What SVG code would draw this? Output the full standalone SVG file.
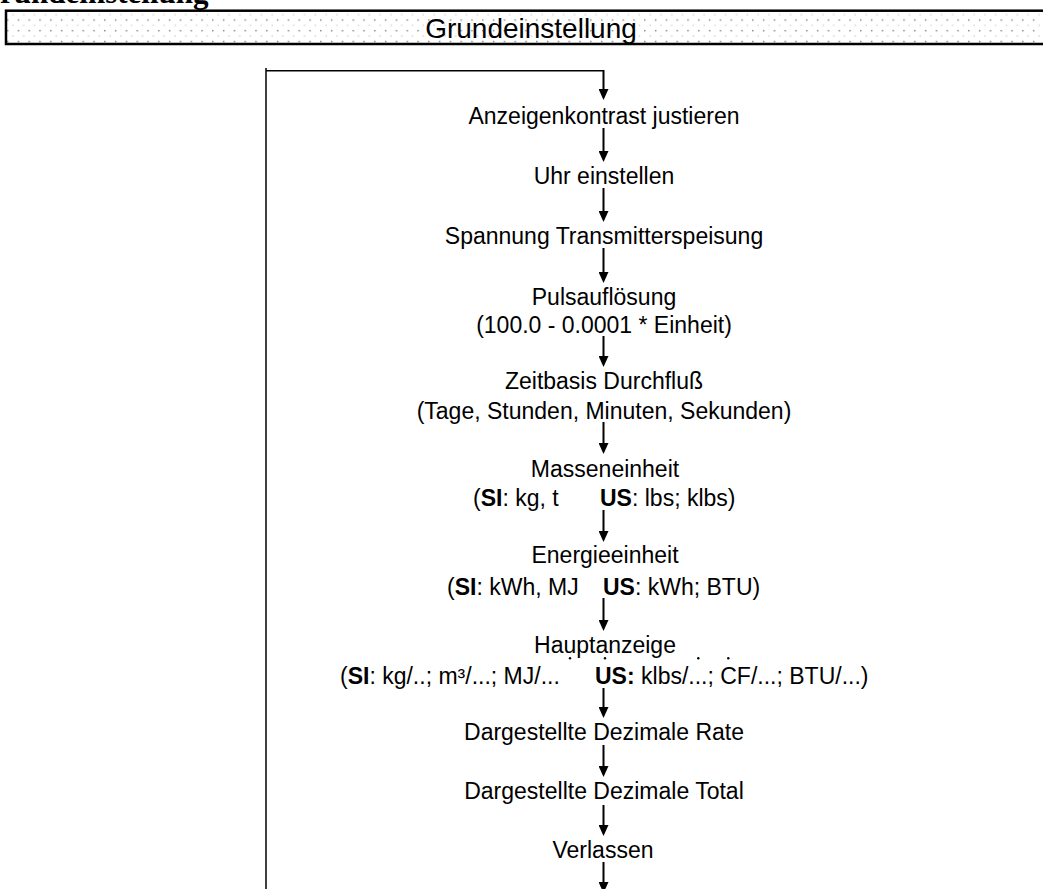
<svg xmlns="http://www.w3.org/2000/svg" width="1043" height="889" viewBox="0 0 1043 889">
<style>
.t{font-family:"Liberation Sans",Arial,sans-serif;font-size:23px;fill:#000}
.c{text-anchor:middle}
.b{font-weight:bold}
.ln{stroke:#000;stroke-width:2;fill:none}
.loop{stroke:#000;stroke-width:1.5;fill:none}
</style>
<defs>
<pattern id="dots" patternUnits="userSpaceOnUse" x="0" y="0" width="10.8" height="10.7">
<rect x="0" y="0" width="10.8" height="10.7" fill="#fff"/>
<rect x="7" y="8.7" width="1.3" height="1.3" fill="#666"/>
<rect x="1.6" y="3.4" width="1.1" height="1.1" fill="#b8b8b8"/>
</pattern>
<marker id="ah" markerUnits="userSpaceOnUse" viewBox="0 0 11 10" markerWidth="11" markerHeight="10" refX="1" refY="5" orient="auto">
<path d="M0,0 L11,5 L0,10 z" fill="#000"/>
</marker>
</defs>

<text x="-24" y="3" style="font-family:'Liberation Serif','Times New Roman',serif;font-size:31px;font-weight:bold">Grundeinstellung</text>

<g id="header">
<rect x="6" y="10.7" width="1100" height="33.3" fill="url(#dots)" stroke="#000" stroke-width="2.5"/>
<text class="t c" x="531" y="38" style="font-size:28px">Grundeinstellung</text>
</g>

<g id="connectors">
<path class="loop" d="M266,889 L266,68 M265.3,70.7 L604,70.7"/>
<line class="ln" x1="603.5" y1="70" x2="603.5" y2="90" marker-end="url(#ah)"/>
<line class="ln" x1="603.5" y1="128" x2="603.5" y2="152" marker-end="url(#ah)"/>
<line class="ln" x1="603.5" y1="188" x2="603.5" y2="212" marker-end="url(#ah)"/>
<line class="ln" x1="603.5" y1="248" x2="603.5" y2="273" marker-end="url(#ah)"/>
<line class="ln" x1="603.5" y1="336" x2="603.5" y2="357" marker-end="url(#ah)"/>
<line class="ln" x1="603.5" y1="422" x2="603.5" y2="444" marker-end="url(#ah)"/>
<line class="ln" x1="603.5" y1="510" x2="603.5" y2="532" marker-end="url(#ah)"/>
<line class="ln" x1="603.5" y1="598" x2="603.5" y2="621" marker-end="url(#ah)"/>
<line class="ln" x1="603.5" y1="688" x2="603.5" y2="708" marker-end="url(#ah)"/>
<line class="ln" x1="603.5" y1="745" x2="603.5" y2="767" marker-end="url(#ah)"/>
<line class="ln" x1="603.5" y1="805" x2="603.5" y2="826" marker-end="url(#ah)"/>
<line class="ln" x1="603.5" y1="862" x2="603.5" y2="883" marker-end="url(#ah)"/>
</g>

<g id="n1"><text class="t c" x="604" y="124">Anzeigenkontrast justieren</text></g>
<g id="n2"><text class="t c" x="604" y="184">Uhr einstellen</text></g>
<g id="n3"><text class="t c" x="604" y="244">Spannung Transmitterspeisung</text></g>
<g id="n4">
<text class="t c" x="604" y="305">Pulsauflösung</text>
<text class="t c" x="604" y="333">(100.0 - 0.0001 * Einheit)</text>
</g>
<g id="n5">
<text class="t c" x="604" y="389">Zeitbasis Durchfluß</text>
<text class="t c" x="604" y="419">(Tage, Stunden, Minuten, Sekunden)</text>
</g>
<g id="n6">
<text class="t c" x="605" y="477">Masseneinheit</text>
<text class="t" x="473" y="506">(<tspan class="b">SI</tspan>: kg, t</text>
<text class="t" x="600" y="506"><tspan class="b">US</tspan>: lbs; klbs)</text>
</g>
<g id="n7">
<text class="t c" x="605" y="563">Energieeinheit</text>
<text class="t" x="447" y="595">(<tspan class="b">SI</tspan>: kWh, MJ</text>
<text class="t" x="603" y="595"><tspan class="b">US</tspan>: kWh; BTU)</text>
</g>
<g id="n8">
<text class="t c" x="605" y="653">Hauptanzeige</text>
<text class="t" x="340" y="684">(<tspan class="b">SI</tspan>: kg/..; m³/...; MJ/...</text>
<text class="t" x="595" y="684"><tspan class="b">US:</tspan> klbs/...; CF/...; BTU/...)</text>
<g fill="#000">
<circle cx="570" cy="658.3" r="1.2"/>
<circle cx="605" cy="658.3" r="1.2"/>
<circle cx="698.3" cy="658.3" r="1.2"/>
<circle cx="728.3" cy="658.3" r="1.2"/>
</g>
</g>
<g id="n9"><text class="t c" x="604" y="740">Dargestellte Dezimale Rate</text></g>
<g id="n10"><text class="t c" x="604" y="799">Dargestellte Dezimale Total</text></g>
<g id="n11"><text class="t c" x="603" y="858">Verlassen</text></g>
</svg>
